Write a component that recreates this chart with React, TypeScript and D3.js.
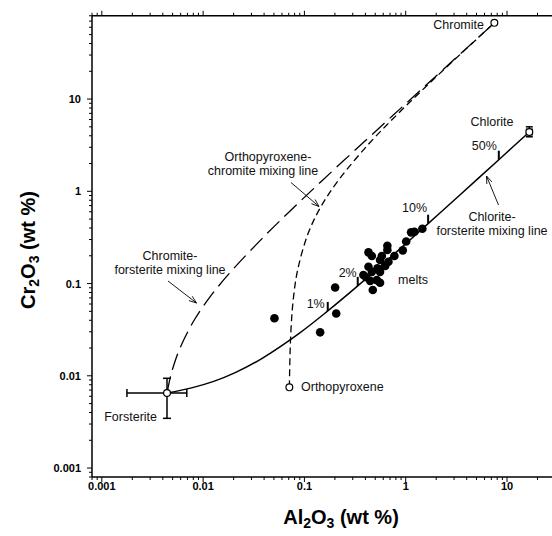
import React from 'react';
import * as d3 from 'd3';

const W = 552;
const H = 536;

// tick labels
const xTickLabels = ['0.001', '0.01', '0.1', '1', '10'];
const yTickLabels = ['0.001', '0.01', '0.1', '1', '10'];

// end members [Al2O3, Cr2O3] wt %
const forsterite = { al: 0.0044, cr: 0.0065, alLo: 0.00177, alHi: 0.0069, crLo: 0.00346, crHi: 0.0094 };
const orthopyroxene = { al: 0.071, cr: 0.0075 };
const chromite = { al: 7.5, cr: 67 };
const chlorite = { al: 16.6, cr: 4.4, alLo: 15.6, alHi: 17.7, crLo: 3.9, crHi: 5.0 };

// melts
const meltAl = [1.46, 1.22, 1.13, 1.01, 0.935, 0.773, 0.659, 0.659, 0.581, 0.429, 0.463, 0.558, 0.675, 0.627,
  0.429, 0.526, 0.463, 0.558, 0.382, 0.406, 0.446, 0.519, 0.558, 0.473, 0.201, 0.206, 0.0506, 0.143];
const meltCr = [0.393, 0.364, 0.359, 0.286, 0.229, 0.199, 0.257, 0.231, 0.199, 0.218, 0.199, 0.18, 0.172, 0.155,
  0.152, 0.146, 0.134, 0.134, 0.124, 0.117, 0.107, 0.109, 0.102, 0.085, 0.0906, 0.0473, 0.042, 0.0296];

// chlorite-forsterite mixing line
const chlFoAl = [0.0044, 0.0077, 0.0127, 0.021, 0.0376, 0.0874, 0.17, 0.336, 0.834, 1.664, 3.32, 8.3, 16.6];
const chlFoCr = [0.0065, 0.0074, 0.0087, 0.0109, 0.0153, 0.0285, 0.0505, 0.0944, 0.226, 0.446, 0.885, 2.2, 4.4];

// orthopyroxene-chromite mixing line
const opxChrAl = [0.071, 0.0718, 0.0725, 0.0747, 0.0784, 0.0858, 0.108, 0.145, 0.22, 0.442, 0.814, 1.557, 3.786, 7.5];
const opxChrCr = [0.0075, 0.0142, 0.0209, 0.041, 0.0745, 0.141, 0.342, 0.677, 1.347, 3.357, 6.707, 13.41, 33.5, 67];

// chromite-forsterite mixing line
const chrFoAl = [0.0044, 0.00448, 0.00455, 0.00477, 0.00515, 0.0059, 0.00815, 0.0119, 0.0194, 0.0419, 0.0794,
  0.154, 0.379, 0.754, 1.504, 3.752, 7.5];
const chrFoCr = [0.0065, 0.00717, 0.00784, 0.00985, 0.0132, 0.0199, 0.04, 0.0735, 0.14, 0.341, 0.676,
  1.346, 3.356, 6.705, 13.4, 33.5, 67];

// % chlorite ticks along chlorite-forsterite line
const mixLabels = ['1%', '2%', '10%', '50%'];
const mixAl = [0.17, 0.336, 1.664, 8.3];
const mixCr = [0.0505, 0.0944, 0.446, 2.2];

const FONT = '"Liberation Sans", Arial, Helvetica, sans-serif';

const x = d3.scaleLog().domain([0.0008, 30]).range([92, 92 + Math.log10(30 / 0.0008) * 101.3]);
const y = d3.scaleLog().domain([0.0008, 80]).range([477, 477 - 5 * 92.25]);

const isMajor = (t: number) => Math.abs(Math.log10(t) - Math.round(Math.log10(t))) < 1e-6;

const lineGen = d3.line<[number, number]>()
  .x(d => x(d[0]))
  .y(d => y(d[1]))
  .curve(d3.curveCatmullRom.alpha(0.5));

const zip = (a: number[], b: number[]) => a.map((v, i) => [v, b[i]] as [number, number]);

function arrowPath(x1: number, y1: number, x2: number, y2: number) {
  const ang = Math.atan2(y2 - y1, x2 - x1);
  const len = 8;
  const spread = 0.35;
  const ax = x2 - len * Math.cos(ang - spread);
  const ay = y2 - len * Math.sin(ang - spread);
  const bx = x2 - len * Math.cos(ang + spread);
  const by = y2 - len * Math.sin(ang + spread);
  return `M${x1},${y1}L${x2},${y2}M${ax},${ay}L${x2},${y2}L${bx},${by}`;
}

export default function App() {
  const [x0, x1] = x.range();
  const [yb, yt] = y.range();
  const xt = x.ticks();
  const yts = y.ticks();
  const labelStyle = { fontFamily: FONT, fontSize: 12.5, fill: '#111' };

  const errBar = (p: any, cap: number) => (
    <g stroke="#000" strokeWidth={1.5} fill="none">
      <line x1={x(p.alLo)} x2={x(p.alHi)} y1={y(p.cr)} y2={y(p.cr)} />
      <line x1={x(p.alLo)} x2={x(p.alLo)} y1={y(p.cr) - cap} y2={y(p.cr) + cap} />
      <line x1={x(p.alHi)} x2={x(p.alHi)} y1={y(p.cr) - cap} y2={y(p.cr) + cap} />
      <line x1={x(p.al)} x2={x(p.al)} y1={y(p.crLo)} y2={y(p.crHi)} />
      <line x1={x(p.al) - cap} x2={x(p.al) + cap} y1={y(p.crLo)} y2={y(p.crLo)} />
      <line x1={x(p.al) - cap} x2={x(p.al) + cap} y1={y(p.crHi)} y2={y(p.crHi)} />
    </g>
  );

  return (
    <svg width={W} height={H} style={{ position: 'absolute', left: 0, top: 0, background: '#fff' }}>
      {/* axes */}
      <g stroke="#000" fill="none">
        <line x1={x0} x2={x1} y1={yb} y2={yb} strokeWidth={1.5} />
        <line x1={x0} x2={x1} y1={yt} y2={yt} strokeWidth={1.5} />
        <line x1={x0} x2={x0} y1={yb} y2={yt} strokeWidth={1.5} />
        {xt.map((t, i) => {
          const L = isMajor(t) ? 5 : 3;
          return (
            <g key={'xt' + i} strokeWidth={1}>
              <line x1={x(t)} x2={x(t)} y1={yb} y2={yb + L} />
              <line x1={x(t)} x2={x(t)} y1={yt} y2={yt - L} />
            </g>
          );
        })}
        {yts.map((t, i) => {
          const L = isMajor(t) ? 5 : 3;
          return <line key={'yt' + i} x1={x0} x2={x0 - L} y1={y(t)} y2={y(t)} strokeWidth={1} />;
        })}
      </g>
      <g fontFamily={FONT} fontWeight="bold" fontSize={11} fill="#000">
        {xTickLabels.map(s => (
          <text key={'xl' + s} x={x(+s)} y={490} textAnchor="middle">{s}</text>
        ))}
        {yTickLabels.map(s => (
          <text key={'yl' + s} x={81} y={y(+s) + 4} textAnchor="end">{s}</text>
        ))}
      </g>
      {/* axis titles */}
      <text x={341} y={524} textAnchor="middle" fontFamily={FONT} fontWeight="bold" fontSize={20}>
        Al<tspan fontSize={14} dy={4}>2</tspan><tspan dy={-4}>O</tspan><tspan fontSize={14} dy={4}>3</tspan><tspan dy={-4}> (wt %)</tspan>
      </text>
      <text transform="translate(35,250) rotate(-90)" textAnchor="middle" fontFamily={FONT} fontWeight="bold" fontSize={20}>
        Cr<tspan fontSize={14} dy={4}>2</tspan><tspan dy={-4}>O</tspan><tspan fontSize={14} dy={4}>3</tspan><tspan dy={-4}> (wt %)</tspan>
      </text>

      {/* mixing lines */}
      <path d={lineGen(zip(chrFoAl, chrFoCr)) || ''} fill="none" stroke="#000" strokeWidth={1.3} strokeDasharray="17,7" />
      <path d={lineGen(zip(opxChrAl, opxChrCr)) || ''} fill="none" stroke="#000" strokeWidth={1.3} strokeDasharray="7,4" />
      <path d={lineGen(zip(chlFoAl, chlFoCr)) || ''} fill="none" stroke="#000" strokeWidth={1.5} />

      {/* % ticks */}
      {mixLabels.map((s, i) => (
        <line key={'mt' + s} x1={x(mixAl[i])} x2={x(mixAl[i])} y1={y(mixCr[i])} y2={y(mixCr[i]) - 9} stroke="#000" strokeWidth={2} />
      ))}
      <g {...labelStyle}>
        <text x={x(mixAl[0]) - 3} y={308} textAnchor="end">1%</text>
        <text x={x(mixAl[1]) - 1} y={277} textAnchor="end">2%</text>
        <text x={x(mixAl[2]) - 1} y={212} textAnchor="end">10%</text>
        <text x={x(mixAl[3]) - 2} y={150} textAnchor="end">50%</text>
      </g>

      {/* melts */}
      {meltAl.map((a, i) => (
        <circle key={'m' + i} cx={x(a)} cy={y(meltCr[i])} r={4.3} fill="#000" />
      ))}

      {/* error bars and end members */}
      {errBar(forsterite, 4)}
      {errBar(chlorite, 3.5)}
      {[forsterite, orthopyroxene, chromite, chlorite].map((p, i) => (
        <circle key={'e' + i} cx={x(p.al)} cy={y(p.cr)} r={3.4} fill="#fff" stroke="#000" strokeWidth={1.2} />
      ))}

      {/* arrows */}
      <g stroke="#000" strokeWidth={0.9} fill="none">
        <path d={arrowPath(168, 281, 196.5, 303)} />
        <path d={arrowPath(291, 182.5, 319, 206.5)} />
        <path d={arrowPath(498.5, 205, 486.5, 176)} />
      </g>

      {/* labels */}
      <g {...labelStyle}>
        <text x={484} y={29} textAnchor="end">Chromite</text>
        <text x={492} y={126} textAnchor="middle">Chlorite</text>
        <text x={492} y={221} textAnchor="middle">Chlorite-</text>
        <text x={492} y={235} textAnchor="middle">forsterite mixing line</text>
        <text x={268} y={161} textAnchor="middle">Orthopyroxene-</text>
        <text x={263} y={175} textAnchor="middle">chromite mixing line</text>
        <text x={170} y={260} textAnchor="middle">Chromite-</text>
        <text x={170} y={274} textAnchor="middle">forsterite mixing line</text>
        <text x={413} y={284} textAnchor="middle">melts</text>
        <text x={157} y={421} textAnchor="end">Forsterite</text>
        <text x={301} y={391}>Orthopyroxene</text>
      </g>
    </svg>
  );
}
